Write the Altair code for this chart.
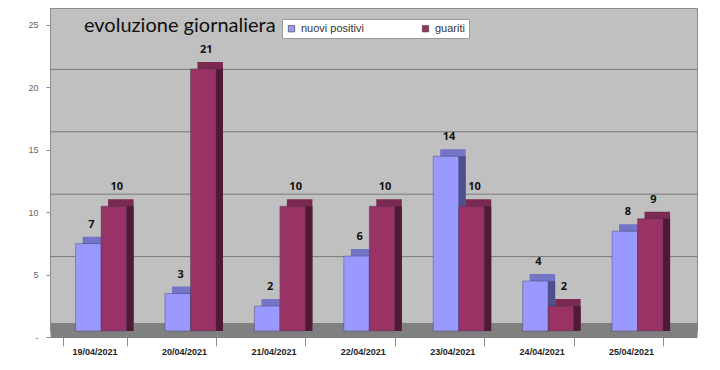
import altair as alt
import pandas as pd

dates = ["19/04/2021", "20/04/2021", "21/04/2021", "22/04/2021",
         "23/04/2021", "24/04/2021", "25/04/2021"]
nuovi_positivi = [7, 3, 2, 6, 14, 4, 8]
guariti = [10, 21, 10, 10, 10, 2, 9]
series = ["nuovi positivi", "guariti"]
colors = ["#9999FF", "#993366"]
side_colors = ["#4f4f8c", "#4f1a36"]
top_colors = ["#7575c8", "#7a2950"]
y_ticks = [0, 5, 10, 15, 20, 25]

rows = []
for d, a, b in zip(dates, nuovi_positivi, guariti):
    rows.append({"data": d, "serie": series[0], "valore": a})
    rows.append({"data": d, "serie": series[1], "valore": b})
df = pd.DataFrame(rows)
grid_df = pd.DataFrame({"tick": y_ticks[1:]})

DEPTH = 7
YDOM = [0, 25.88]
BAND = 64.03  # pixel width of one date group

x = alt.X("data:N", sort=dates, title=None,
          scale=alt.Scale(paddingInner=0.284, paddingOuter=0.26, align=0.27),
          axis=alt.Axis(labelAngle=0, labelFont="Arial", labelFontSize=9,
                        labelFontWeight="bold", labelColor="#222",
                        labelPadding=1, domainColor="#808080",
                        domainWidth=15, offset=-1,
                        tickColor="#8c8c8c", tickSize=16, tickBand="extent",
                        ticks=True, grid=False))
y = alt.Y("valore:Q", title=None,
          scale=alt.Scale(domain=YDOM, nice=False, zero=True),
          axis=alt.Axis(values=y_ticks, labelFont="Arial", labelFontSize=9,
                        labelColor="#666", labelPadding=8,
                        tickOffset=6,
                        labelExpr="datum.value == 0 ? '-' : datum.label",
                        domainColor="#8c8c8c", tickColor="#8c8c8c",
                        tickSize=4, grid=False))


def xoff(shift):
    return alt.XOffset("serie:N", sort=series,
                       scale=alt.Scale(paddingInner=0, paddingOuter=0.255,
                                       align=1, range=[shift, BAND + shift]))


legend = alt.Legend(title=None, orient="none", legendX=232, legendY=11,
                    direction="horizontal", fillColor="white",
                    strokeColor="#9a9a9a", padding=4, symbolType="square",
                    symbolSize=40, symbolStrokeColor="#333",
                    symbolStrokeWidth=0.6, labelFont="Arial",
                    labelFontSize=11, labelColor="#333", columnPadding=56,
                    labelLimit=120)
color = alt.Color("serie:N", sort=series,
                  scale=alt.Scale(domain=series, range=colors), legend=legend)

base = alt.Chart(df)

grid = alt.Chart(grid_df).mark_rule(color="#7a7a7a", strokeWidth=1,
                                    yOffset=-12).encode(
    y=alt.Y("tick:Q", scale=alt.Scale(domain=YDOM, nice=False)))

# back copy (top face colour), shifted right and up by the depth
tops = base.mark_bar(yOffset=-DEPTH, y2Offset=-DEPTH).encode(
    x=x, y=y, xOffset=xoff(DEPTH),
    fill=alt.Fill("serie:N", sort=series,
                  scale=alt.Scale(domain=series, range=top_colors),
                  legend=None))
# side face colour, shifted right only
sides = base.mark_bar(y2Offset=-DEPTH).encode(
    x=x, y=y, xOffset=xoff(DEPTH),
    fill=alt.Fill("serie:N", sort=series,
                  scale=alt.Scale(domain=series, range=side_colors),
                  legend=None))
fronts = base.mark_bar(stroke="#3a3a5a", strokeWidth=0.4).encode(
    x=x, y=y, color=color, xOffset=xoff(0))
labels = base.mark_text(dy=-19, dx=3, font="Open Sans", fontSize=11,
                        fontWeight="bold", color="#111").encode(
    x=x, y=y, xOffset=xoff(0), text="valore:Q")

back = alt.layer(tops, sides).resolve_scale(fill="independent")
front = alt.layer(fronts, labels)

chart = alt.layer(grid, back, front).resolve_scale(
    fill="independent", xOffset="independent"
).properties(
    width=647, height=323,
    title=alt.TitleParams("evoluzione giornaliera", anchor="start",
                          font="Lato", fontSize=20, fontWeight="normal",
                          color="#111", dx=56, dy=34),
    autosize=alt.AutoSizeParams(type="none"),
    padding={"left": 42, "top": 0, "right": 15, "bottom": 31},
    background="white",
).configure_view(fill="#c0c0c0", stroke="#8c8c8c")

chart.save("out.html", embed_options={"renderer": "svg", "actions": False})
